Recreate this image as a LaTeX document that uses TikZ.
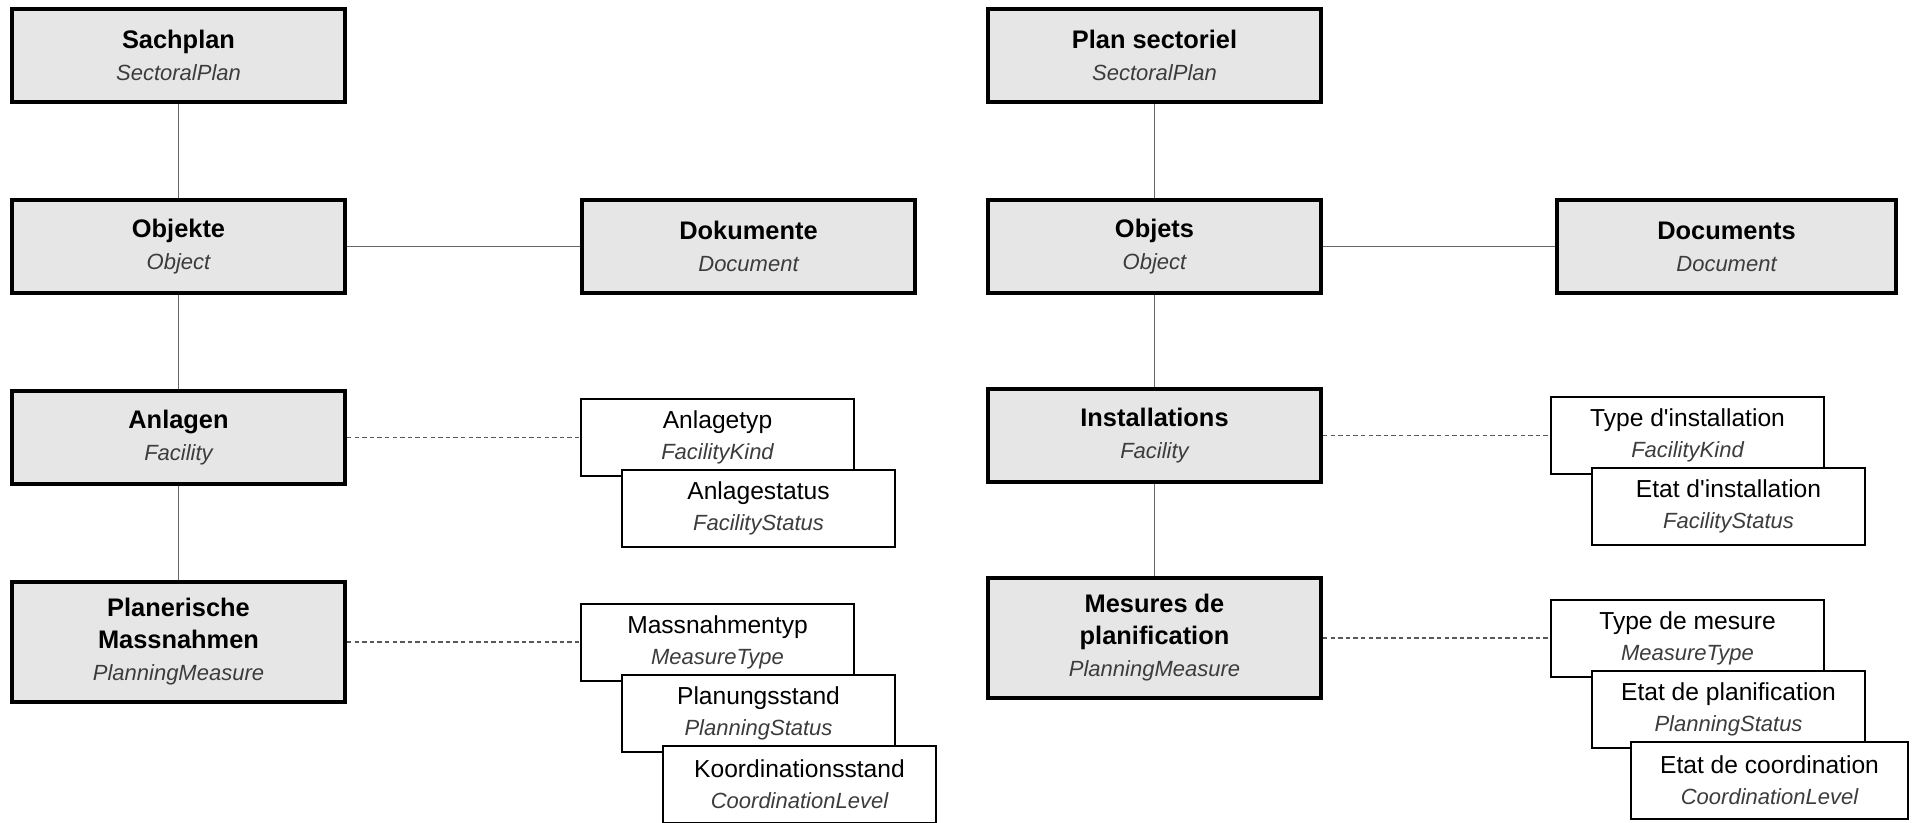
\documentclass[tikz,border=0pt]{standalone}
\usepackage{fontspec}
\setmainfont{Liberation Sans}
\usepackage{xcolor}
\usetikzlibrary{positioning}

\definecolor{boxgray}{HTML}{E6E6E6}
\definecolor{linegray}{HTML}{666666}
\definecolor{subgray}{HTML}{3C3C3C}
\newcommand{\subname}[1]{{\fontsize{11}{15}\selectfont\mdseries\itshape\color{subgray}#1}}
\newcommand{\apo}{\textquotesingle}

\begin{document}
\begin{tikzpicture}[x=0.5pt, y=-0.5pt]
    \tikzstyle{entity}=[draw=black, line width=2pt, fill=boxgray, minimum width=166.5pt, minimum height=46.5pt, inner sep=2pt, align=center, font=\fontsize{12.7}{16}\selectfont\bfseries]
    \tikzstyle{codelist}=[draw=black, line width=1pt, fill=white, minimum width=136.5pt, minimum height=38.5pt, inner sep=2pt, align=center, font=\fontsize{12.3}{15.5}\selectfont]
    \tikzstyle{stacked}=[xshift=20.5pt, yshift=-35.5pt]
    \tikzstyle{link}=[draw=linegray, line width=0.7pt]
    \tikzstyle{dotlink}=[draw=black!65, line width=0.9pt, dash pattern=on 2.2pt off 1.6pt]

    \useasboundingbox (0,0) rectangle (1912,823);

    % German version
    \node[entity] (SP) at (178.5,55.5) {Sachplan\\\subname{SectoralPlan}};
    \node[entity, below=47pt of SP] (OB) {Objekte\\\subname{Object}};
    \node[entity, below=47pt of OB] (AN) {Anlagen\\\subname{Facility}};
    \node[entity, below=47pt of AN, minimum height=60pt] (PM) {Planerische\\Massnahmen\\\subname{PlanningMeasure}};
    \node[entity, right=116.5pt of OB] (DO) {Dokumente\\\subname{Document}};

    \node[codelist, right=116.5pt of AN] (AT) {Anlagetyp\\\subname{FacilityKind}};
    \node[codelist, stacked] (AS) at (AT) {Anlagestatus\\\subname{FacilityStatus}};
    \node[codelist, right=116.5pt of PM] (MT) {Massnahmentyp\\\subname{MeasureType}};
    \node[codelist, stacked] (PS) at (MT) {Planungsstand\\\subname{PlanningStatus}};
    \node[codelist, stacked] (KS) at (PS) {Koordinationsstand\\\subname{CoordinationLevel}};

    % French version
    \node[entity] (PL) at (1154.5,55.5) {Plan sectoriel\\\subname{SectoralPlan}};
    \node[entity, below=47pt of PL] (OJ) {Objets\\\subname{Object}};
    \node[entity, below=46pt of OJ] (IN) {Installations\\\subname{Facility}};
    \node[entity, below=46pt of IN, minimum height=60pt] (ME) {Mesures de\\planification\\\subname{PlanningMeasure}};
    \node[entity, right=116pt of OJ, minimum width=169.5pt] (DC) {Documents\\\subname{Document}};

    \node[codelist, right=113.5pt of IN] (TI) {Type d\apo installation\\\subname{FacilityKind}};
    \node[codelist, stacked] (EI) at (TI) {Etat d\apo installation\\\subname{FacilityStatus}};
    \node[codelist, right=113.5pt of ME] (TM) {Type de mesure\\\subname{MeasureType}};
    \node[codelist, stacked] (EP) at (TM) {Etat de planification\\\subname{PlanningStatus}};
    \node[codelist, stacked, minimum width=138.5pt] (EC) at (EP) {Etat de coordination\\\subname{CoordinationLevel}};

    % Connections
    \foreach \a/\b in {SP/OB, OB/AN, AN/PM, OB/DO, PL/OJ, OJ/IN, IN/ME, OJ/DC}
        \draw[link] (\a) -- (\b);
    \foreach \a/\b in {AN/AT, PM/MT, IN/TI, ME/TM}
        \draw[dotlink] (\a) -- (\b);
\end{tikzpicture}
\end{document}
